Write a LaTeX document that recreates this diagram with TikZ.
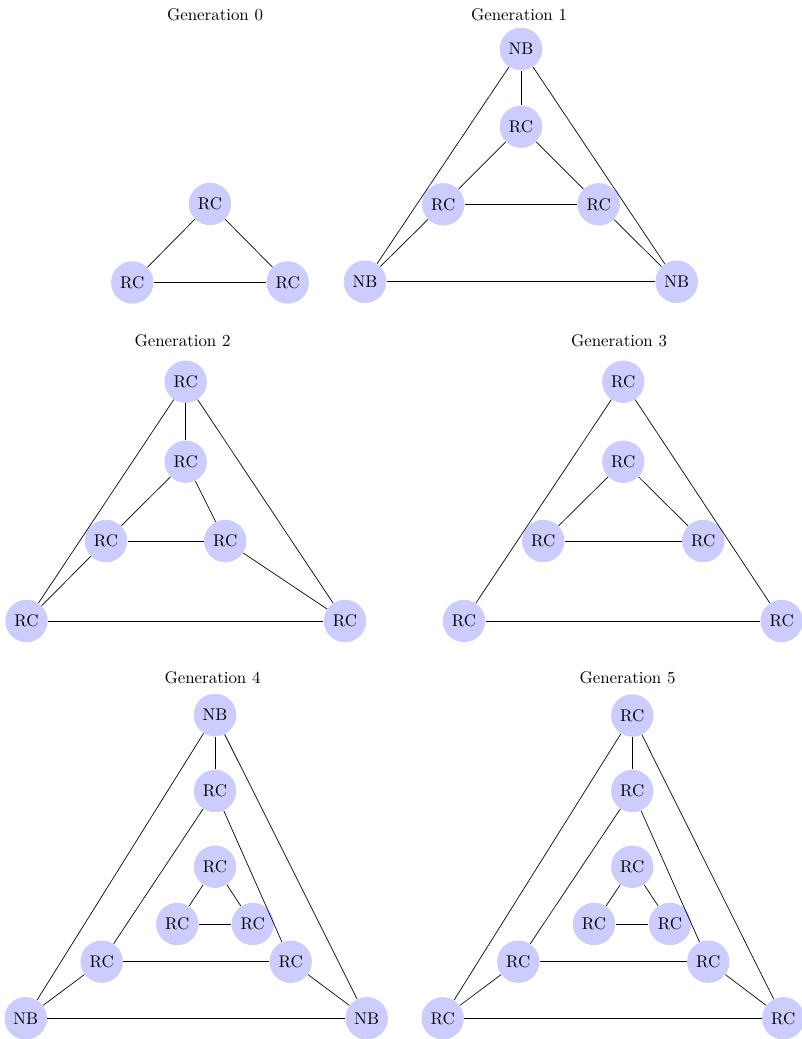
\documentclass[tikz,border=0pt]{standalone}
\begin{document}
\begin{tikzpicture}[x=0.5917pt, y=-0.5917pt,
  vtx/.style={circle, fill=blue!20, inner sep=3.333pt},
  link/.style={draw=black, line width=0.4pt},
  gentitle/.style={inner sep=0pt, anchor=center}]
\useasboundingbox (0,0) rectangle (801,1039);

% ---------- Generation 0 ----------
\node[gentitle] (t0) at (215,15) {Generation 0};
\node[vtx] (a1) at (210,204) {RC};
\node[vtx] (a2) at (132.3,282.5) {RC};
\node[vtx] (a3) at (287.7,282.5) {RC};
\draw[link] (a1) -- (a2);
\draw[link] (a1) -- (a3);
\draw[link] (a2) -- (a3);

% ---------- Generation 1 ----------
\node[gentitle] (t1) at (519,15) {Generation 1};
\node[vtx] (b1) at (521,49) {NB};
\node[vtx] (b2) at (521,126.7) {RC};
\node[vtx] (b3) at (443.3,204.3) {RC};
\node[vtx] (b4) at (598.7,204.3) {RC};
\node[vtx] (b5) at (365,281.7) {NB};
\node[vtx] (b6) at (676.7,281.7) {NB};
\draw[link] (b1) -- (b2);
\draw[link] (b1) -- (b5);
\draw[link] (b1) -- (b6);
\draw[link] (b2) -- (b3);
\draw[link] (b2) -- (b4);
\draw[link] (b3) -- (b4);
\draw[link] (b3) -- (b5);
\draw[link] (b4) -- (b6);
\draw[link] (b5) -- (b6);

% ---------- Generation 2 ----------
\node[gentitle] (t2) at (182.5,341) {Generation 2};
\node[vtx] (c1) at (185.7,381.7) {RC};
\node[vtx] (c2) at (185.7,461.7) {RC};
\node[vtx] (c3) at (106,541) {RC};
\node[vtx] (c4) at (225.3,541) {RC};
\node[vtx] (c5) at (26.5,621) {RC};
\node[vtx] (c6) at (345,621) {RC};
\draw[link] (c1) -- (c2);
\draw[link] (c1) -- (c5);
\draw[link] (c1) -- (c6);
\draw[link] (c2) -- (c3);
\draw[link] (c2) -- (c4);
\draw[link] (c3) -- (c4);
\draw[link] (c3) -- (c5);
\draw[link] (c4) -- (c6);
\draw[link] (c5) -- (c6);

% ---------- Generation 3 ----------
\node[gentitle] (t3) at (619,341) {Generation 3};
\node[vtx] (d1) at (623.3,381.7) {RC};
\node[vtx] (d2) at (623.3,461.7) {RC};
\node[vtx] (d3) at (543.3,541) {RC};
\node[vtx] (d4) at (703.3,541) {RC};
\node[vtx] (d5) at (464,621) {RC};
\node[vtx] (d6) at (781.7,621) {RC};
\draw[link] (d1) -- (d5);
\draw[link] (d1) -- (d6);
\draw[link] (d2) -- (d3);
\draw[link] (d2) -- (d4);
\draw[link] (d3) -- (d4);
\draw[link] (d5) -- (d6);

% ---------- Generation 4 ----------
\node[gentitle] (t4) at (212.5,678) {Generation 4};
\node[vtx] (e1) at (215,715) {NB};
\node[vtx] (e2) at (215,791) {RC};
\node[vtx] (e3) at (215,866.7) {RC};
\node[vtx] (e4) at (177.3,924) {RC};
\node[vtx] (e5) at (252.7,924) {RC};
\node[vtx] (e6) at (101.7,961.7) {RC};
\node[vtx] (e7) at (290.7,961.7) {RC};
\node[vtx] (e8) at (25.7,1018.3) {NB};
\node[vtx] (e9) at (366.7,1018.3) {NB};
\draw[link] (e1) -- (e2);
\draw[link] (e1) -- (e8);
\draw[link] (e1) -- (e9);
\draw[link] (e2) -- (e6);
\draw[link] (e2) -- (e7);
\draw[link] (e6) -- (e7);
\draw[link] (e6) -- (e8);
\draw[link] (e7) -- (e9);
\draw[link] (e8) -- (e9);
\draw[link] (e3) -- (e4);
\draw[link] (e3) -- (e5);
\draw[link] (e4) -- (e5);

% ---------- Generation 5 ----------
\node[gentitle] (t5) at (627.5,678) {Generation 5};
\node[vtx] (f1) at (632.3,715.5) {RC};
\node[vtx] (f2) at (632.3,791) {RC};
\node[vtx] (f3) at (632.3,866.7) {RC};
\node[vtx] (f4) at (594,924) {RC};
\node[vtx] (f5) at (670,924) {RC};
\node[vtx] (f6) at (518.3,961.7) {RC};
\node[vtx] (f7) at (708.3,961.7) {RC};
\node[vtx] (f8) at (442.7,1018.3) {RC};
\node[vtx] (f9) at (783.3,1018.3) {RC};
\draw[link] (f1) -- (f2);
\draw[link] (f1) -- (f8);
\draw[link] (f1) -- (f9);
\draw[link] (f2) -- (f6);
\draw[link] (f2) -- (f7);
\draw[link] (f6) -- (f7);
\draw[link] (f6) -- (f8);
\draw[link] (f7) -- (f9);
\draw[link] (f8) -- (f9);
\draw[link] (f3) -- (f4);
\draw[link] (f3) -- (f5);
\draw[link] (f4) -- (f5);
\end{tikzpicture}
\end{document}
